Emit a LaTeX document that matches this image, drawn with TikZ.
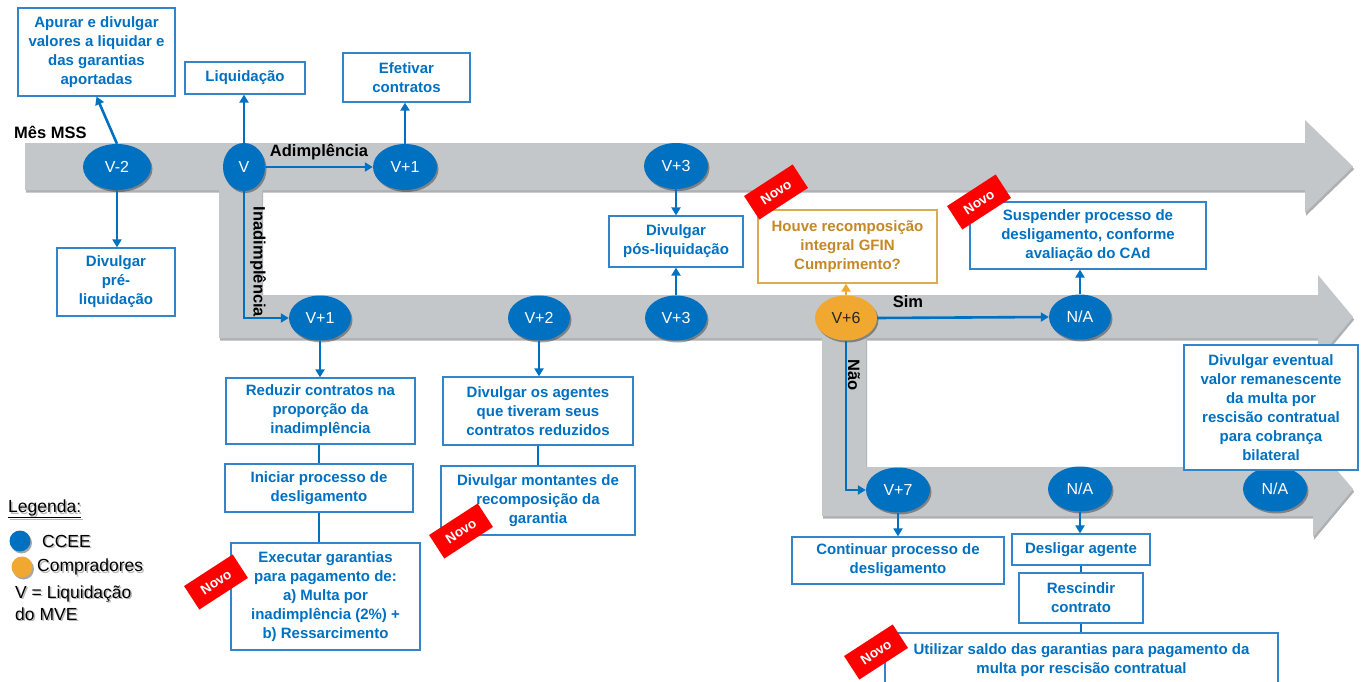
\documentclass[tikz,border=0pt]{standalone}
\usepackage{fontspec}
\setmainfont{Liberation Sans}
\usetikzlibrary{arrows.meta,shadows,shapes.geometric,calc}

\definecolor{ccee}{RGB}{0,112,192}
\definecolor{boxline}{RGB}{52,132,204}
\definecolor{lane}{RGB}{196,199,202}
\definecolor{laneshade}{RGB}{110,112,115}
\definecolor{buyer}{RGB}{240,168,48}
\definecolor{gold}{RGB}{196,136,40}
\definecolor{goldline}{RGB}{216,172,84}
\definecolor{novored}{RGB}{255,0,0}

\newcommand\taskfont{\fontsize{15}{19}\selectfont\bfseries}
\newcommand\eventfont{\fontsize{16}{18}\selectfont}
\newcommand\lblfont{\fontsize{16.5}{18}\selectfont\bfseries}
\newcommand\tagfont{\fontsize{13.5}{15}\selectfont\bfseries}
\newcommand\legfont{\fontsize{17.5}{20}\selectfont}

\tikzset{
  event/.style={ellipse, fill=ccee, text=white, font=\eventfont, inner sep=0,
    minimum width=64, minimum height=46,
    drop shadow={shadow xshift=1.5pt, shadow yshift=-2pt, opacity=0.35, fill=black}},
  buyerevent/.style={event, fill=buyer, text=black!85},
  task/.style={draw=boxline, line width=1.2pt, fill=white, text=ccee,
    font=\taskfont, align=center, inner sep=0},
  question/.style={task, draw=goldline, text=gold},
  flow/.style={draw=ccee, line width=2.6pt, -{Triangle[length=8pt,width=9pt]}},
  buyerflow/.style={flow, draw=buyer},
  link/.style={draw=ccee, line width=2.6pt},
  tag/.style={fill=novored, text=white, font=\tagfont, minimum width=58,
    minimum height=28, inner sep=0},
  lbl/.style={font=\lblfont, text=black, inner sep=0},
  legtext/.style={font=\legfont, text=black, inner sep=0, anchor=west, align=left},
  legshade/.style={legtext, text=black!28},
}

\begin{document}
\begin{tikzpicture}[x=1pt,y=-1pt]
\useasboundingbox (0,0) rectangle (1362,682);

% ---- timeline lanes (shadow first, then lane) ----
\begin{scope}[shift={(1.2,2.6)}]
  \fill[laneshade, opacity=0.55] (25,143) -- (1305,143) -- (1305,120) -- (1353,166.5)
    -- (1305,213) -- (1305,190) -- (25,190) -- cycle;
\end{scope}
\fill[lane] (25,143) -- (1305,143) -- (1305,120) -- (1353,166.5)
  -- (1305,213) -- (1305,190) -- (25,190) -- cycle;

\begin{scope}[shift={(1.2,2.6)}]
  \fill[laneshade, opacity=0.55] (219,190) -- (262,190) -- (262,295) -- (1318,295)
    -- (1318,275) -- (1353,317) -- (1318,359) -- (1318,338) -- (219,338) -- cycle;
\end{scope}
\fill[lane] (219,190) -- (262,190) -- (262,295) -- (1318,295)
  -- (1318,275) -- (1353,317) -- (1318,359) -- (1318,338) -- (219,338) -- cycle;

\begin{scope}[shift={(1.2,2.6)}]
  \fill[laneshade, opacity=0.55] (822,338) -- (866,338) -- (866,467) -- (1313,467)
    -- (1313,442) -- (1353,489) -- (1313,537) -- (1313,516) -- (822,516) -- cycle;
\end{scope}
\fill[lane] (822,338) -- (866,338) -- (866,467) -- (1313,467)
  -- (1313,442) -- (1353,489) -- (1313,537) -- (1313,516) -- (822,516) -- cycle;

% ---- lane labels ----
\node[lbl, anchor=west] (mes) at (14,132) {Mês MSS};
\node[lbl] (adim) at (319,152) {Adimplência};
\node[lbl] (sim) at (908,302) {Sim};
\node[lbl, rotate=-90] (inad) at (258,262) {Inadimplência};
\node[lbl, rotate=-90] (nao) at (854,375) {Não};

% ---- events ----
\node[event, minimum width=68] (v2) at (117,167) {V-2};
\node[event, minimum width=42, minimum height=48] (v) at (244,167) {V};
\node[event] (v1a) at (405,167) {V+1};
\node[event] (v3a) at (676,166) {V+3};

\node[event, minimum width=62, minimum height=45] (v1b) at (320,318) {V+1};
\node[event, minimum width=62, minimum height=45] (v2b) at (539,318) {V+2};
\node[event, minimum width=62, minimum height=45] (v3b) at (676,318) {V+3};
\node[buyerevent, minimum width=62, minimum height=45] (v6) at (846,318) {V+6};
\node[event, minimum width=62, minimum height=45] (nab) at (1080,317) {N/A};

\node[event, minimum width=64, minimum height=45] (v7) at (898,490) {V+7};
\node[event, minimum width=64, minimum height=45] (nac) at (1080,489) {N/A};
\node[event, minimum width=64, minimum height=45] (nad) at (1275,489) {N/A};

% ---- tasks ----
\node[task, minimum width=157, minimum height=88] (apurar) at (96.5,52)
  {Apurar e divulgar\\valores a liquidar e\\das garantias\\aportadas};
\node[task, minimum width=120, minimum height=32] (liq) at (245,78) {Liquidação};
\node[task, minimum width=127, minimum height=49] (efet) at (406.5,77.5)
  {Efetivar\\contratos};
\node[task, minimum width=118, minimum height=68] (pre) at (116,282)
  {Divulgar\\pré-\\liquidação};
\node[task, minimum width=134, minimum height=51] (pos) at (676,241.5)
  {Divulgar\\pós-liquidação};
\node[question, minimum width=179, minimum height=73] (houve) at (847.5,246.5)
  {Houve recomposição\\integral GFIN\\Cumprimento?};
\node[task, minimum width=236, minimum height=67] (susp) at (1088,235.5)
  {Suspender processo de\\desligamento, conforme\\avaliação do CAd};
\node[task, minimum width=189, minimum height=66] (reduz) at (320.5,411)
  {Reduzir contratos na\\proporção da\\inadimplência};
\node[task, minimum width=188, minimum height=48] (inic) at (319,488)
  {Iniciar processo de\\desligamento};
\node[task, minimum width=189, minimum height=107] (exec) at (325.5,596.5)
  {Executar garantias\\para pagamento de:\\a) Multa por\\inadimplência (2\%) +\\b) Ressarcimento};
\node[task, minimum width=190, minimum height=68] (agentes) at (538,411)
  {Divulgar os agentes\\que tiveram seus\\contratos reduzidos};
\node[task, minimum width=194, minimum height=69] (montantes) at (538,500.5)
  {Divulgar montantes de\\recomposição da\\garantia};
\node[task, minimum width=212, minimum height=47] (cont) at (898,560.5)
  {Continuar processo de\\desligamento};
\node[task, minimum width=138, minimum height=31] (desl) at (1081,549.5)
  {Desligar agente};
\node[task, minimum width=124, minimum height=50] (resc) at (1081,598)
  {Rescindir\\contrato};
\node[task, minimum width=393, minimum height=54] (util) at (1081.5,660)
  {Utilizar saldo das garantias para pagamento da\\multa por rescisão contratual};
\node[task, minimum width=174, minimum height=125] (reman) at (1271,407.5)
  {Divulgar eventual\\valor remanescente\\da multa por\\rescisão contratual\\para cobrança\\bilateral};

% ---- connectors ----
\draw[flow] (v2.north) -- (apurar.south);
\draw[flow] (v2.south) -- (v2.south |- pre.north);
\draw[flow] (v.north) -- (v.north |- liq.south);
\draw[flow] (v.east) -- (v1a.west);
\draw[flow] (v1a.north) -- (v1a.north |- efet.south);
\draw[flow] (v.south) |- (v1b.west);
\draw[flow] (v3a.south) -- (pos.north);
\draw[flow] (v3b.north) -- (pos.south);
\draw[buyerflow] (v6.north) -- (v6.north |- houve.south);
\draw[flow] (v6.east) -- (nab.west);
\draw[flow] (nab.north) -- (nab.north |- susp.south);
\draw[flow] (v6.south) |- (v7.west);

\draw[flow] (v1b.south) -- (v1b.south |- reduz.north);
\draw[link] (reduz.south -| inic.north) -- (inic.north);
\draw[link] (inic.south) -- (inic.south |- exec.north);
\draw[flow] (v2b.south) -- (v2b.south |- agentes.north);
\draw[link] (agentes.south) -- (agentes.south |- montantes.north);

\draw[flow] (v7.south) -- (v7.south |- cont.north);
\draw[flow] (nac.south) -- (nac.south |- desl.north);
\draw[link] (desl.south) -- (resc.north);
\draw[link] (resc.south) -- (resc.south |- util.north);

% ---- "Novo" tags ----
\node[tag, rotate=33] (novoA) at (776,192) {Novo};
\node[tag, rotate=33] (novoB) at (979,202) {Novo};
\node[tag, rotate=33] (novoC) at (216,582) {Novo};
\node[tag, rotate=33] (novoD) at (461,531) {Novo};
\node[tag, rotate=33] (novoE) at (876,652) {Novo};

% ---- legend ----
\node[legshade] (legAs) at (9.5,510.5) {\underline{Legenda:}};
\node[legtext] (legA) at (8,509) {\underline{Legenda:}};
\node[circle, fill=ccee, minimum size=21, inner sep=0,
  drop shadow={shadow xshift=1.5pt, shadow yshift=-2pt, opacity=0.35, fill=black}] (dotA) at (20,541) {};
\node[circle, fill=buyer, minimum size=21, inner sep=0,
  drop shadow={shadow xshift=1.5pt, shadow yshift=-2pt, opacity=0.35, fill=black}] (dotB) at (22,567) {};
\node[legshade] (legBs) at (43.5,542.5) {CCEE};
\node[legtext] (legB) at (42,541) {CCEE};
\node[legshade] (legCs) at (38.5,568.5) {Compradores};
\node[legtext] (legC) at (37,567) {Compradores};
\node[legshade] (legDs) at (16.5,595.5) {V = Liquidação};
\node[legtext] (legD) at (15,594) {V = Liquidação};
\node[legshade] (legEs) at (16.5,615.5) {do MVE};
\node[legtext] (legE) at (15,614) {do MVE};
\end{tikzpicture}
\end{document}
